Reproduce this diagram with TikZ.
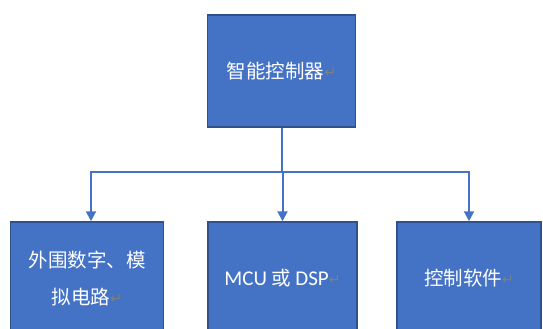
\documentclass[tikz,border=0pt]{standalone}
\usepackage{fontspec}
\setmainfont{Carlito}
\newfontfamily\cjk{Noto Sans CJK SC}
\newfontfamily\symfont{DejaVu Sans}
\usepackage{xcolor}
\usetikzlibrary{arrows.meta,positioning}
\definecolor{boxblue}{HTML}{4472C4}
\definecolor{boxedge}{HTML}{2F528F}
\newcommand{\pmark}{{\symfont\fontsize{14}{14}\selectfont\color{gray}\raisebox{1pt}{↵}}}
\newcommand{\latin}[1]{{\rmfamily\fontsize{21}{37}\selectfont #1}}

\begin{document}
\begin{tikzpicture}[
    x=1pt, y=-1pt,
    block/.style={rectangle, draw=boxedge, line width=1.5pt, fill=boxblue, text=white,
        minimum height=112pt, align=center, font=\cjk\fontsize{19.5}{37}\selectfont},
    link/.style={boxblue, line width=2pt},
    arrow/.style={link, -{Triangle[length=10pt, width=10pt]}}
]
    \useasboundingbox (0,0) rectangle (543,329);
    \clip (0,0) rectangle (543,329);

    \node[block, minimum width=148pt] (ctrl) at (281.5,71) {智能控制器\pmark};
    \node[block, minimum width=153pt] (circ) at (87,278) {外围数字、模\\拟电路\pmark};
    \node[block, minimum width=149pt] (mcu) at (282.5,278) {\latin{MCU} 或 \latin{DSP}\pmark};
    \node[block, minimum width=144pt] (soft) at (469,278) {控制软件\pmark};

    \coordinate (split) at (281.5,172);
    \draw[link] (ctrl.south) -- (split);
    \draw[arrow] (split) -| ([xshift=4pt]circ.north);
    \draw[arrow] (split) -- (split -| mcu.north) -- (mcu.north);
    \draw[arrow] (split) -| (soft.north);
\end{tikzpicture}
\end{document}
